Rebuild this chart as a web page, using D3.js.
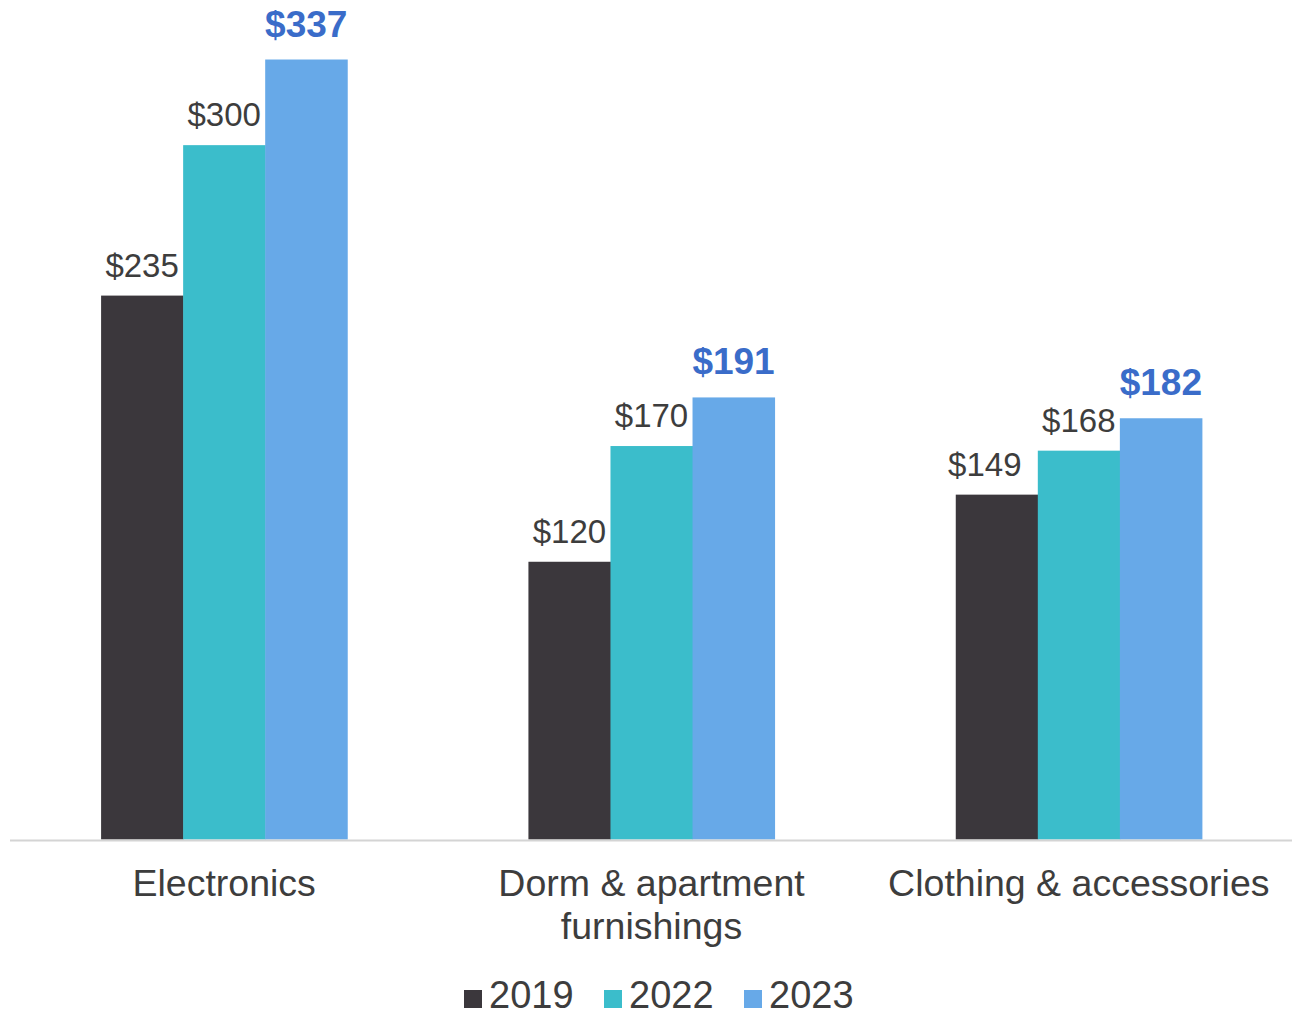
<!DOCTYPE html>
<html>
<head>
<meta charset="utf-8">
<script src="https://cdn.jsdelivr.net/npm/d3@7"></script>
<style>
  html, body { margin: 0; padding: 0; background: #ffffff; }
  svg { display: block; }
  text { font-family: "Liberation Sans", Arial, Helvetica, sans-serif; }
</style>
</head>
<body>
<svg id="chart" width="1292" height="1015"></svg>
<script>
// ---- Data ----
const categories = [["Electronics"], ["Dorm & apartment", "furnishings"], ["Clothing & accessories"]];
const categoryKeys = ["Electronics", "Dorm & apartment furnishings", "Clothing & accessories"];
const years = ["2019", "2022", "2023"];
const values2019 = [235, 120, 149];
const values2022 = [300, 170, 168];
const values2023 = [337, 191, 182];
const seriesColors = ["#3b373c", "#3bbdcb", "#67a9e8"];

// ---- Setup ----
const svg = d3.select("#chart");
const series = [values2019, values2022, values2023];
const rows = categoryKeys.map((c, i) => ({
  key: c,
  idx: i,
  lines: categories[i],
  vals: years.map((y, j) => ({ year: y, j: j, i: i, v: series[j][i] }))
}));

const x0 = d3.scaleBand().domain(categoryKeys).range([10.5, 1292.5])
  .paddingInner(0.424).paddingOuter(0.212);
const x1 = d3.scaleBand().domain(years).range([0, x0.bandwidth()]).padding(0);
const y = d3.scaleLinear().domain([0, 350]).range([839.5, 839.5 - 350 * 2.3145]);

// Bars
const groups = svg.append("g").selectAll("g").data(rows).join("g")
  .attr("transform", d => `translate(${x0(d.key)},0)`);

groups.selectAll("rect").data(d => d.vals).join("rect")
  .attr("x", d => x1(d.year))
  .attr("width", x1.bandwidth() + 0.5)
  .attr("y", d => y(d.v))
  .attr("height", d => y(0) - y(d.v))
  .attr("fill", d => seriesColors[d.j]);

// Value labels (the 2019 clothing label is nudged left in the original)
groups.selectAll("text.val").data(d => d.vals).join("text")
  .attr("class", "val")
  .attr("x", d => x1(d.year) + x1.bandwidth() / 2 + ((d.i === 2 && d.j === 0) ? -12 : 0))
  .attr("y", d => y(d.v) - (d.j === 2 ? 23 : 19))
  .attr("text-anchor", "middle")
  .attr("font-size", d => d.j === 2 ? 37 : 33)
  .attr("font-weight", d => d.j === 2 ? "bold" : "normal")
  .attr("fill", d => d.j === 2 ? "#3a6cc9" : "#3d3d3d")
  .text(d => "$" + d.v);

// Baseline axis
const xAxis = d3.axisBottom(x0).tickSize(0).tickFormat("");
const axisG = svg.append("g").attr("transform", `translate(0,${y(0) + 1})`).call(xAxis);
axisG.select(".domain").attr("stroke", "#d4d4d4").attr("stroke-width", 2)
  .attr("d", "M10,0H1292");

// Category labels
const catG = svg.append("g").selectAll("text").data(rows).join("text")
  .attr("x", d => x0(d.key) + x0.bandwidth() / 2)
  .attr("y", 896)
  .attr("text-anchor", "middle")
  .attr("font-size", 37.5)
  .attr("fill", "#3d3d3d");
catG.selectAll("tspan").data(d => d.lines).join("tspan")
  .attr("x", function () { return d3.select(this.parentNode).attr("x"); })
  .attr("dy", (d, i) => i === 0 ? 0 : 43)
  .text(d => d);

// Legend
const legendX = [464, 604, 744];
const legend = svg.append("g").selectAll("g").data(years).join("g")
  .attr("transform", (d, i) => `translate(${legendX[i]},1008)`);
legend.append("rect")
  .attr("x", 0).attr("y", -18).attr("width", 18).attr("height", 18)
  .attr("fill", (d, i) => seriesColors[i]);
legend.append("text")
  .attr("x", 25).attr("y", 0)
  .attr("font-size", 38)
  .attr("fill", "#3d3d3d")
  .text(d => d);
</script>
</body>
</html>
